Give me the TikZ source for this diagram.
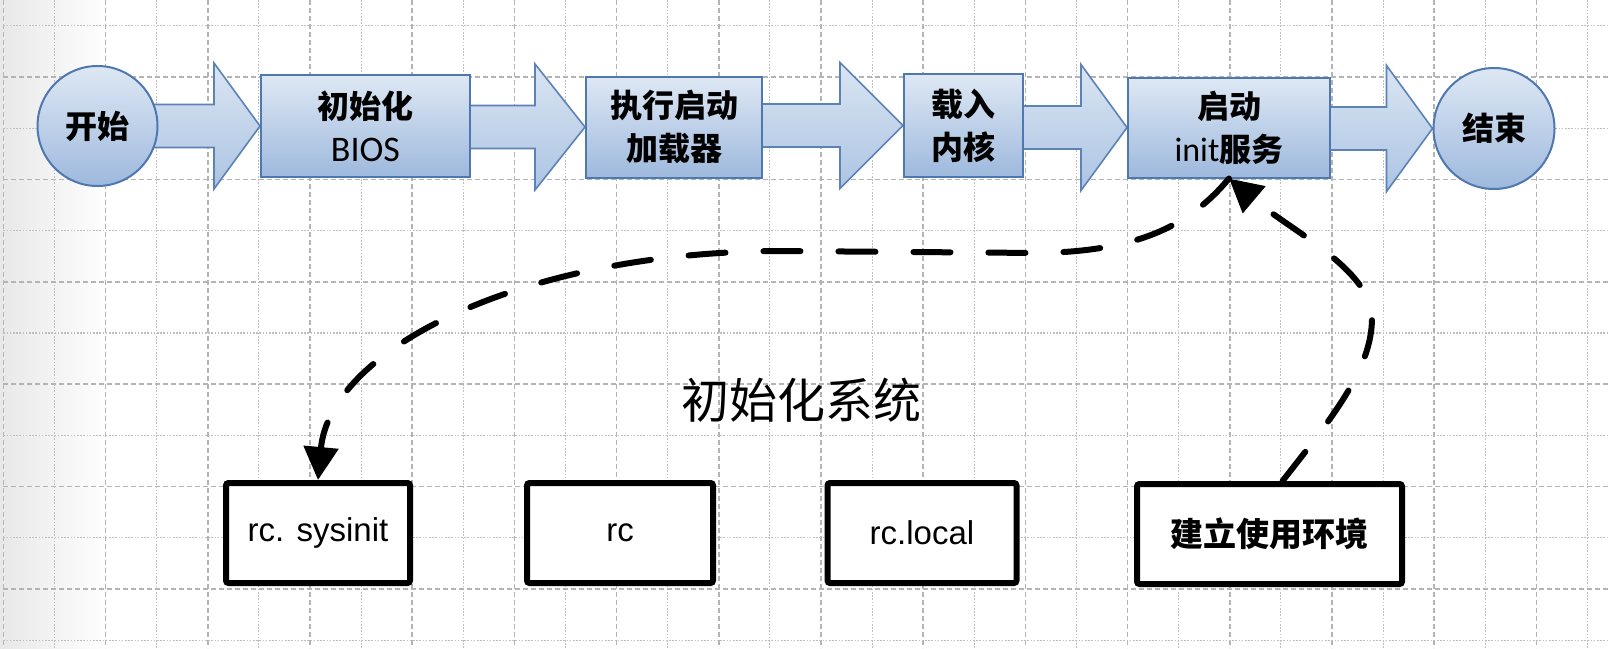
\documentclass[tikz,border=0pt]{standalone}
\usepackage{fontspec}
\setmainfont{Liberation Sans}
\newfontfamily\cjk{Noto Sans CJK SC}
\newfontfamily\calib{Carlito}
\usetikzlibrary{calc,arrows.meta}
\pgfdeclarelayer{bg}
\pgfdeclarelayer{mid}
\pgfsetlayers{bg,mid,main}

\definecolor{gridc}{RGB}{180,180,180}
\definecolor{stageTop}{RGB}{222,232,244}
\definecolor{stageBot}{RGB}{158,185,221}
\definecolor{stageLine}{RGB}{79,120,176}
\definecolor{arrTop}{RGB}{218,229,242}
\definecolor{arrBot}{RGB}{172,196,227}
\definecolor{arrLine}{RGB}{92,130,182}

\tikzset{
  majorgrid/.style={draw=gridc, line width=1.5pt, dash pattern=on 5pt off 3pt},
  minorgrid/.style={draw=gridc!85, line width=1.1pt, dash pattern=on 1.6pt off 1.6pt},
  stage/.style={draw=stageLine, line width=2pt, top color=stageTop, bottom color=stageBot,
    inner sep=0pt, align=center, font=\fontsize{32}{43}\selectfont\cjk\bfseries},
  terminal/.style={stage, circle, minimum size=#1},
  flowarr/.style={draw=arrLine, line width=1.6pt, top color=arrTop, bottom color=arrBot, line join=miter},
  script/.style={draw=black, line width=6pt, rounded corners=2.5pt, fill=white, inner sep=0pt,
    minimum height=100pt, font=\fontsize{33}{40}\selectfont},
  dasharrow/.style={draw=black, line width=6pt, line cap=round, dash pattern=on 37pt off 38pt,
    -{Triangle[length=33pt,width=34pt]}},
}

% block arrow from one stage to the next: #3 is the length of the head
\newcommand\flowarrow[3]{%
  \path[flowarr]
    ($(#1.center |- #2.west)+(0,-21.5)$) -- ($(#2.west)+(-#3,-21.5)$)
    -- ($(#2.west)+(-#3,-63)$) -- (#2.west) -- ($(#2.west)+(-#3,63)$)
    -- ($(#2.west)+(-#3,21.5)$) -- ($(#1.center |- #2.west)+(0,21.5)$) -- cycle;}

\begin{document}
\begin{tikzpicture}[x=1pt,y=-1pt]
\useasboundingbox (0,0) rectangle (1608,648);

% paper with grid
\begin{pgfonlayer}{bg}
  \fill[white] (0,0) rectangle (1608,648);
  \shade[left color=black!9, right color=white] (0,0) rectangle (110,648);
  \foreach \k in {0,...,31}{
    \pgfmathsetmacro\gx{3.4+51.1*\k}
    \ifodd\k\relax \draw[minorgrid] (\gx,0) -- (\gx,648);
    \else \draw[majorgrid] (\gx,0) -- (\gx,648); \fi
  }
  \foreach \k in {0,...,12}{
    \pgfmathsetmacro\gy{25.8+51.2*\k}
    \ifodd\k\relax \draw[majorgrid] (3.4,\gy) -- (1608,\gy);
    \else \draw[minorgrid] (3.4,\gy) -- (1608,\gy); \fi
  }
\end{pgfonlayer}

% boot stages
\node[terminal=120pt] (start) at (97.5,126) {开始};
\node[stage, minimum width=209pt, minimum height=102pt] (bios) at (365.5,126)
  {初始化\\{\calib\mdseries\fontsize{36}{43}\selectfont BIOS}};
\node[stage, minimum width=176pt, minimum height=101pt] (loader) at (674,127) {执行启动\\加载器};
\node[stage, minimum width=119pt, minimum height=103pt] (kernel) at (963.5,125.5) {载入\\内核};
\node[stage, minimum width=202pt, minimum height=100pt] (init) at (1229,127.5)
  {启动\\{\calib\mdseries\fontsize{34}{43}\selectfont init}服务};
\node[terminal=121pt] (end) at (1494,128.5) {结束};

\begin{pgfonlayer}{mid}
  \flowarrow{start}{bios}{46}
  \flowarrow{bios}{loader}{50}
  \flowarrow{loader}{kernel}{63}
  \flowarrow{kernel}{init}{46}
  \flowarrow{init}{end}{46}
\end{pgfonlayer}

% init scripts
\node[font=\fontsize{48}{56}\selectfont\cjk] (title) at (801,400) {初始化系统};
\node[script, minimum width=184pt] (sys) at (318,533) {rc. sysinit};
\node[script, minimum width=186pt] (rc) at (620,533) {rc};
\node[script, minimum width=189pt] (local) at (922,533) {rc.local};
\node[script, minimum width=265pt, font=\fontsize{33}{40}\selectfont\cjk\bfseries] (env) at (1269.5,534) {建立使用环境};

% control flow between the init service and the scripts
\draw[dasharrow] (init.south) .. controls (1190,225) and (1140,251) .. (1040,253)
  -- (780,251) .. controls (520,252) and (330,350) .. (sys.north);
\draw[dasharrow] ([xshift=13pt]env.north) .. controls (1330,420) and (1372,370) .. (1372,318)
  .. controls (1372,270) and (1290,230) .. (init.south);
\end{tikzpicture}
\end{document}
